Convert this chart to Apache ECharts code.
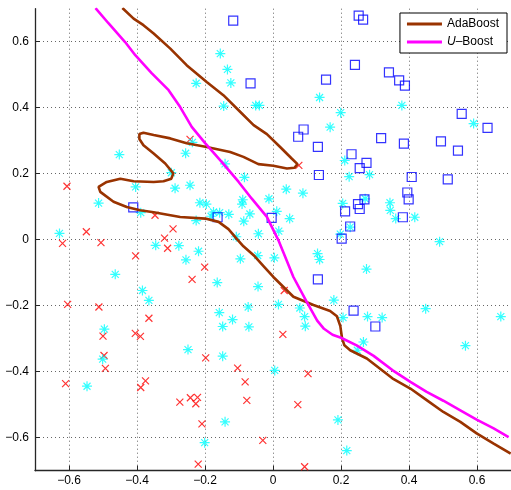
<!DOCTYPE html>
<html>
<head>
<meta charset="utf-8">
<script src="https://cdn.jsdelivr.net/npm/echarts@6/dist/echarts.min.js"></script>
<style>
html, body { margin: 0; padding: 0; background: #fff; }
#chart { width: 511px; height: 490px; }
</style>
</head>
<body>
<div id="chart"></div>
<script>
// class 1: red crosses
var crossPts = [
  [-0.244, 0.304], [-0.606, 0.162], [-0.549, 0.024], [-0.619, -0.011], [-0.506, -0.009],
  [-0.347, 0.074], [-0.294, 0.033], [-0.319, 0.005], [0.076, 0.225], [-0.404, -0.049],
  [-0.310, -0.026], [-0.201, -0.083], [-0.238, -0.120], [-0.604, -0.196], [-0.512, -0.204],
  [-0.365, -0.238], [-0.405, -0.284], [-0.390, -0.293], [-0.500, -0.292], [-0.497, -0.351],
  [-0.493, -0.390], [-0.610, -0.436], [-0.375, -0.428], [-0.389, -0.448], [-0.274, -0.492],
  [-0.243, -0.479], [-0.222, -0.478], [-0.227, -0.497], [-0.198, -0.358], [-0.104, -0.389],
  [-0.082, -0.431], [-0.077, -0.487], [-0.209, -0.558], [-0.220, -0.680], [-0.030, -0.608],
  [0.033, -0.154], [0.029, -0.287], [0.103, -0.406], [0.073, -0.500], [0.093, -0.688]
];
// class 2: cyan asterisks
var starPts = [
  [-0.155, 0.564], [-0.134, 0.516], [-0.124, 0.475], [-0.226, 0.474], [-0.145, 0.405],
  [-0.051, 0.407], [-0.040, 0.407], [-0.452, 0.258], [-0.257, 0.262], [-0.237, 0.295],
  [-0.141, 0.230], [-0.084, 0.189], [-0.299, 0.203], [-0.288, 0.156], [-0.244, 0.165],
  [-0.404, 0.160], [-0.513, 0.111], [-0.215, 0.112], [-0.196, 0.108], [-0.089, 0.121],
  [-0.091, 0.108], [-0.012, 0.124], [-0.389, 0.082], [-0.175, 0.084], [-0.157, 0.082],
  [-0.130, 0.077], [-0.068, 0.078], [-0.182, 0.071], [-0.226, 0.058], [-0.086, 0.056],
  [-0.628, 0.019], [-0.043, 0.018], [-0.108, 0.009], [-0.345, -0.017], [-0.277, -0.018],
  [0.137, 0.431], [0.199, 0.385], [0.168, 0.341], [0.379, 0.407], [0.590, 0.352],
  [0.211, 0.240], [0.224, 0.191], [0.284, 0.197], [0.039, 0.153], [0.088, 0.141],
  [0.011, 0.086], [0.049, 0.064], [0.017, 0.026], [0.205, 0.110], [0.271, 0.124],
  [0.344, 0.112], [0.345, 0.089], [0.361, 0.064], [0.417, 0.068], [0.227, 0.038],
  [0.198, 0.017], [0.490, -0.006], [-0.219, -0.035], [-0.256, -0.061], [-0.464, -0.105],
  [-0.384, -0.154], [-0.365, -0.184], [-0.164, -0.130], [-0.096, -0.058], [-0.045, -0.048],
  [-0.044, -0.142], [-0.073, -0.204], [-0.158, -0.221], [-0.119, -0.242], [-0.148, -0.263],
  [-0.071, -0.264], [-0.496, -0.271], [-0.501, -0.362], [-0.547, -0.444], [-0.250, -0.333],
  [-0.148, -0.353], [-0.141, -0.552], [-0.201, -0.615], [0.004, -0.055], [0.131, -0.042],
  [0.137, -0.060], [0.275, -0.089], [0.016, -0.196], [0.079, -0.207], [0.093, -0.233],
  [0.095, -0.262], [0.179, -0.183], [0.206, -0.236], [0.278, -0.233], [0.321, -0.236],
  [0.266, -0.310], [0.248, -0.335], [0.005, -0.396], [0.191, -0.546], [0.217, -0.639],
  [0.449, -0.209], [0.566, -0.321], [0.670, -0.233]
];
// class 3: blue squares
var squarePts = [
  [-0.117, 0.664], [-0.066, 0.474], [0.252, 0.679], [0.265, 0.667], [0.241, 0.530],
  [0.341, 0.507], [0.371, 0.483], [0.388, 0.467], [0.156, 0.485], [0.555, 0.381],
  [0.631, 0.339], [0.090, 0.334], [0.074, 0.312], [0.132, 0.281], [0.318, 0.308],
  [0.385, 0.291], [0.494, 0.298], [0.544, 0.270], [0.231, 0.259], [0.275, 0.233],
  [0.255, 0.217], [0.135, 0.196], [0.408, 0.190], [0.514, 0.183], [0.395, 0.143],
  [0.399, 0.122], [0.250, 0.108], [0.269, 0.122], [0.255, 0.093], [0.212, 0.086],
  [0.382, 0.068], [0.227, 0.040], [0.202, 0.003], [-0.004, 0.066], [-0.411, 0.098],
  [-0.163, 0.068], [0.132, -0.120], [0.237, -0.215], [0.301, -0.263]
];
// decision boundaries
var adaBoost = [
  [-0.443, 0.702], [-0.410, 0.670], [-0.381, 0.650], [-0.351, 0.625], [-0.302, 0.579],
  [-0.254, 0.529], [-0.195, 0.478], [-0.146, 0.438], [-0.096, 0.387], [-0.057, 0.347],
  [-0.018, 0.320], [0.021, 0.281], [0.055, 0.246], [0.072, 0.229], [0.063, 0.218],
  [0.041, 0.216], [0.001, 0.224], [-0.043, 0.229], [-0.087, 0.251], [-0.126, 0.266],
  [-0.195, 0.281], [-0.254, 0.292], [-0.302, 0.307], [-0.351, 0.317], [-0.381, 0.324],
  [-0.393, 0.320], [-0.393, 0.305], [-0.381, 0.286], [-0.351, 0.261], [-0.317, 0.231],
  [-0.293, 0.201], [-0.299, 0.185], [-0.322, 0.177], [-0.351, 0.175], [-0.410, 0.177],
  [-0.449, 0.185], [-0.489, 0.175], [-0.513, 0.160], [-0.508, 0.145], [-0.469, 0.115],
  [-0.430, 0.099], [-0.391, 0.089], [-0.351, 0.083], [-0.273, 0.069], [-0.199, 0.064],
  [-0.160, 0.054], [-0.131, 0.032], [-0.106, 0.002], [-0.087, -0.020], [-0.057, -0.047],
  [-0.028, -0.080], [0.001, -0.113], [0.060, -0.173], [0.119, -0.198], [0.168, -0.216],
  [0.188, -0.232], [0.198, -0.262], [0.203, -0.298], [0.210, -0.320], [0.227, -0.335],
  [0.276, -0.360], [0.351, -0.420], [0.404, -0.451], [0.452, -0.486], [0.501, -0.522],
  [0.551, -0.552], [0.599, -0.587], [0.649, -0.618], [0.699, -0.648]
];
var uBoost = [
  [-0.522, 0.702], [-0.484, 0.656], [-0.435, 0.599], [-0.405, 0.559], [-0.357, 0.505],
  [-0.307, 0.453], [-0.273, 0.402], [-0.239, 0.342], [-0.199, 0.292], [-0.151, 0.236],
  [-0.101, 0.175], [-0.063, 0.125], [-0.018, 0.069], [0.016, -0.002], [0.060, -0.113],
  [0.100, -0.190], [0.130, -0.245], [0.150, -0.270], [0.175, -0.288], [0.200, -0.297],
  [0.246, -0.320], [0.296, -0.352], [0.351, -0.395], [0.404, -0.431], [0.452, -0.461],
  [0.501, -0.488], [0.551, -0.517], [0.599, -0.545], [0.649, -0.572], [0.693, -0.598]
];

var crossIcon = 'path://M0,0L10,10M10,0L0,10';
var starIcon = 'path://M5,0L5,10M0,5L10,5M1.5,1.5L8.5,8.5M8.5,1.5L1.5,8.5';

var myChart = echarts.init(document.getElementById('chart'));

function fmt(v) {
    if (Math.abs(v) < 1e-9) return '0';
    return (v < 0 ? '\u2212' : '') + Math.abs(v).toFixed(1);
}

var axisCommon = {
    type: 'value',
    min: -0.7,
    max: 0.7,
    splitNumber: 7,
    axisLine: { onZero: false, lineStyle: { color: '#262626', width: 1.3 } },
    axisTick: { inside: true, length: 5, lineStyle: { color: '#262626' } },
    axisLabel: {
        color: '#000',
        fontSize: 12,
        fontFamily: 'Liberation Sans',
        showMinLabel: false,
        showMaxLabel: false,
        formatter: fmt
    },
    splitLine: {
        show: true,
        showMinLine: false,
        showMaxLine: false,
        lineStyle: { color: '#666', width: 1, type: [1, 3] }
    }
};

var option = {
    animation: false,
    backgroundColor: '#fff',
    grid: { left: 35, top: 8.7, width: 478, height: 462 },
    xAxis: echarts.util.merge({ axisLabel: { margin: 4 } }, axisCommon, true),
    yAxis: echarts.util.merge({ axisLabel: { margin: 6 } }, axisCommon, true),
    legend: {
        right: 4,
        top: 13,
        orient: 'vertical',
        backgroundColor: '#fff',
        borderColor: '#000',
        borderWidth: 1,
        padding: [5, 8, 5, 7],
        itemGap: 6,
        itemWidth: 35,
        itemHeight: 3,
        textStyle: {
            fontSize: 12,
            fontFamily: 'Liberation Sans',
            color: '#000',
            rich: { i: { fontStyle: 'italic', fontSize: 12, fontFamily: 'Liberation Sans' } }
        },
        formatter: function (name) {
            return name === 'U-Boost' ? '{i|U}\u2013Boost' : name;
        },
        data: [
            { name: 'AdaBoost', icon: 'rect' },
            { name: 'U-Boost', icon: 'rect' }
        ]
    },
    series: [
        {
            name: 'cross', type: 'scatter', data: crossPts,
            symbol: crossIcon, symbolSize: 7,
            itemStyle: { color: 'transparent', borderColor: '#ff0000', borderWidth: 1.2 }
        },
        {
            name: 'star', type: 'scatter', data: starPts,
            symbol: starIcon, symbolSize: 10,
            itemStyle: { color: 'transparent', borderColor: '#00ffff', borderWidth: 1.2 }
        },
        {
            name: 'square', type: 'scatter', data: squarePts,
            symbol: 'rect', symbolSize: 9,
            itemStyle: { color: 'transparent', borderColor: '#0000ff', borderWidth: 1.2 }
        },
        {
            name: 'AdaBoost', type: 'line', data: adaBoost,
            showSymbol: false, symbol: 'none',
            lineStyle: { color: '#993300', width: 2.6 },
            itemStyle: { color: '#993300' }
        },
        {
            name: 'U-Boost', type: 'line', data: uBoost,
            showSymbol: false, symbol: 'none',
            lineStyle: { color: '#ff00ff', width: 2.6 },
            itemStyle: { color: '#ff00ff' }
        }
    ]
};

myChart.setOption(option);
</script>
</body>
</html>
